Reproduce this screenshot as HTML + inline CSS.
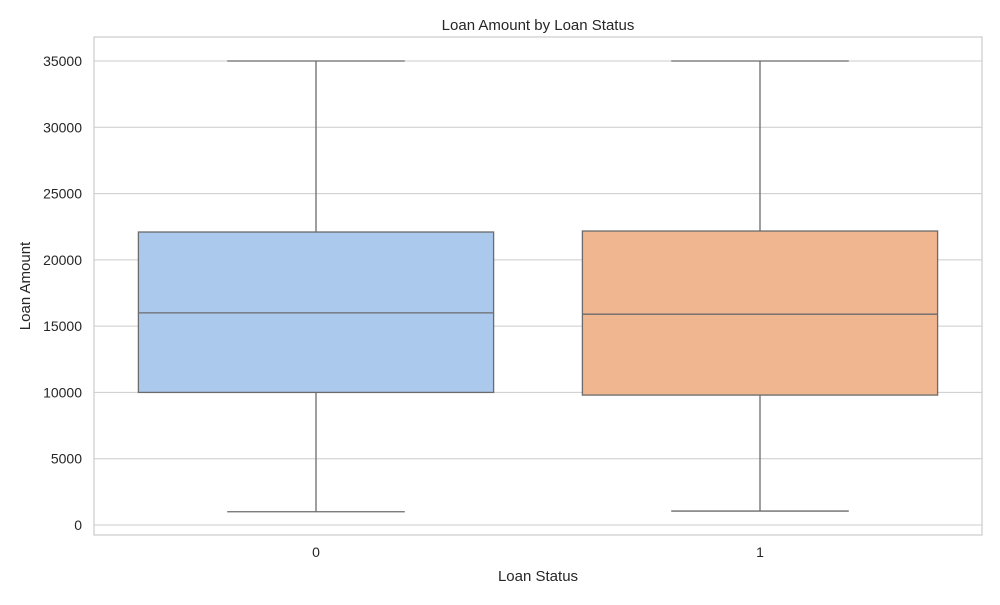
<!DOCTYPE html>
<html><head><meta charset="utf-8"><style>
body{margin:0;background:#fff;}
svg text{font-family:"Liberation Sans","DejaVu Sans",sans-serif;fill:#262626;}
</style></head><body>
<svg id="chart" width="1000" height="600" xmlns="http://www.w3.org/2000/svg"></svg>
<script>
const categories = ["0", "1"];
const whiskerLow = [1000, 1050];
const q1Values = [10000, 9800];
const medianValues = [16000, 15900];
const q3Values = [22100, 22175];
const whiskerHigh = [35000, 35000];
const yTicks = [0, 5000, 10000, 15000, 20000, 25000, 30000, 35000];
const boxColors = ["#abc9ed", "#f0b690"];

const NS = "http://www.w3.org/2000/svg";
const svg = document.getElementById("chart");
const L = 94, R = 982, T = 37, B = 535;
function y(v){ return 525 - v * (464 / 35000); }
const band = (R - L) / categories.length;
function xc(i){ return L + band * (i + 0.5); }
function mk(tag, attrs, parent){
  const e = document.createElementNS(NS, tag);
  for (const k in attrs) e.setAttribute(k, attrs[k]);
  (parent || svg).appendChild(e);
  return e;
}
yTicks.forEach(t => {
  const g = mk("line", {x1:L, x2:R, y1:y(t), y2:y(t), stroke:"#cccccc", "stroke-width":1});
  
  
  const tx = mk("text", {x:L-12, y:y(t)+5, "text-anchor":"end", "font-size":14});
  tx.textContent = t;
  
  
});
categories.forEach((c, i) => {
  const tx = mk("text", {x:xc(i), y:B+22, "text-anchor":"middle", "font-size":14});
  tx.textContent = c;
  
  
});
const fr = mk("rect", {x:L, y:T, width:R-L, height:B-T, fill:"none", stroke:"#cccccc", "stroke-width":1.2});


categories.forEach((c, i) => {
  const g = mk("g", {});
  
  
  const cx = xc(i), bw = band * 0.8, cw = bw / 2;
  const st = {stroke:"#6b6b6b", "stroke-width":1.3};
  mk("line", Object.assign({x1:cx, x2:cx, y1:y(whiskerHigh[i]), y2:y(q3Values[i])}, st), g);
  mk("line", Object.assign({x1:cx, x2:cx, y1:y(q1Values[i]), y2:y(whiskerLow[i])}, st), g);
  mk("line", Object.assign({x1:cx-cw/2, x2:cx+cw/2, y1:y(whiskerHigh[i]), y2:y(whiskerHigh[i])}, st), g);
  mk("line", Object.assign({x1:cx-cw/2, x2:cx+cw/2, y1:y(whiskerLow[i]), y2:y(whiskerLow[i])}, st), g);
  mk("rect", Object.assign({x:cx-bw/2, y:y(q3Values[i]), width:bw, height:y(q1Values[i])-y(q3Values[i]), fill:boxColors[i]}, st), g);
  mk("line", Object.assign({x1:cx-bw/2, x2:cx+bw/2, y1:y(medianValues[i]), y2:y(medianValues[i])}, st), g);
});
const t1 = mk("text", {x:(L+R)/2, y:30, "text-anchor":"middle", "font-size":15});
t1.textContent = "Loan Amount by Loan Status";


const t2 = mk("text", {x:(L+R)/2, y:581, "text-anchor":"middle", "font-size":15});
t2.textContent = "Loan Status";


const t3 = mk("text", {x:30, y:(T+B)/2, "text-anchor":"middle", "font-size":15, transform:"rotate(-90 30 " + (T+B)/2 + ")"});
t3.textContent = "Loan Amount";


</script>
</body></html>
